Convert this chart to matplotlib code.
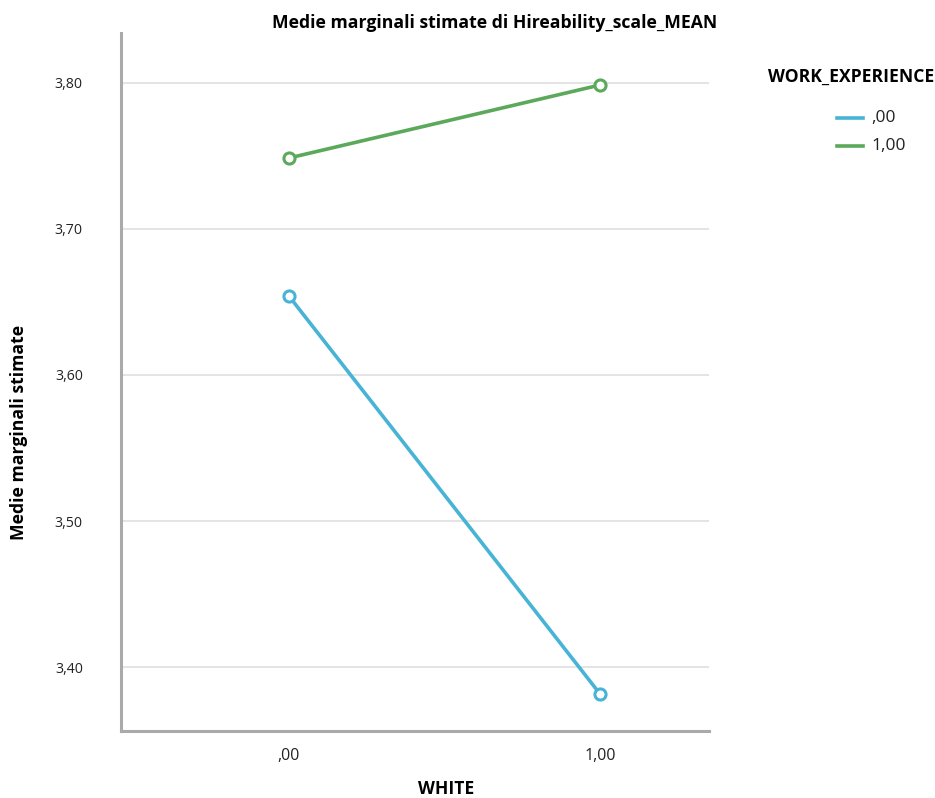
import matplotlib
matplotlib.use("Agg")
import matplotlib.pyplot as plt
from matplotlib.lines import Line2D

plt.rcParams['font.family'] = ['Open Sans', 'DejaVu Sans']

white_levels = [0, 1]
white_labels = [",00", "1,00"]
series_names = [",00", "1,00"]
we_00 = [3.654, 3.3815]
we_100 = [3.7486, 3.7986]
yticks = [3.40, 3.50, 3.60, 3.70, 3.80]
ytick_labels = ["3,40", "3,50", "3,60", "3,70", "3,80"]

colors = ["#48b4d5", "#5ca95b"]

fig = plt.figure(figsize=(9.35, 7.98), dpi=100)
ax = fig.add_axes([121/935, 1-731/798, (709-121)/935, (731-33)/798])

for vals, c in zip([we_00, we_100], colors):
    ax.plot(white_levels, vals, color=c, lw=2.6, marker='o', ms=8,
            mfc='white', mec=c, mew=2.2, zorder=3)

ax.set_xlim(-0.540, 1.350)
ax.set_ylim(3.3562, 3.8342)
ax.set_yticks(yticks)
ax.set_yticklabels(ytick_labels)
ax.set_xticks(white_levels)
ax.set_xticklabels(white_labels)
ax.tick_params(axis='y', length=0, pad=27.5, labelsize=10.2, labelcolor='#222222')
ax.tick_params(axis='x', length=0, pad=12, labelsize=11.5, labelcolor='#222222')
ax.yaxis.grid(True, color='#e2e2e2', lw=1.3)
ax.set_axisbelow(True)
for s in ['top', 'right']:
    ax.spines[s].set_visible(False)
for s in ['left', 'bottom']:
    ax.spines[s].set_color('#aaaaaa')
    ax.spines[s].set_linewidth(2.2)

fig.text(495/935, 1-23/798, "Medie marginali stimate di Hireability_scale_MEAN",
         ha='center', va='center', fontsize=12.7, fontweight='bold')
fig.text(19/935, 1-432/798, "Medie marginali stimate", rotation=90,
         ha='center', va='center', fontsize=12.7, fontweight='bold')
fig.text(446/935, 1-789/798, "WHITE", ha='center', va='center',
         fontsize=12.6, fontweight='bold')

# legend
fig.text(851/935, 1-77/798, "WORK_EXPERIENCE", ha='center', va='center',
         fontsize=12.6, fontweight='bold')
for i, (name, c) in enumerate(zip(series_names, colors)):
    y = 1 - (118 + 28*i)/798
    fig.add_artist(Line2D([837/935, 863/935], [y, y], color=c, lw=2.6,
                          transform=fig.transFigure))
    fig.text(871/935, y, name, ha='left', va='center', fontsize=12.5,
             color='#222222')

fig.savefig("out.png", dpi=100)
